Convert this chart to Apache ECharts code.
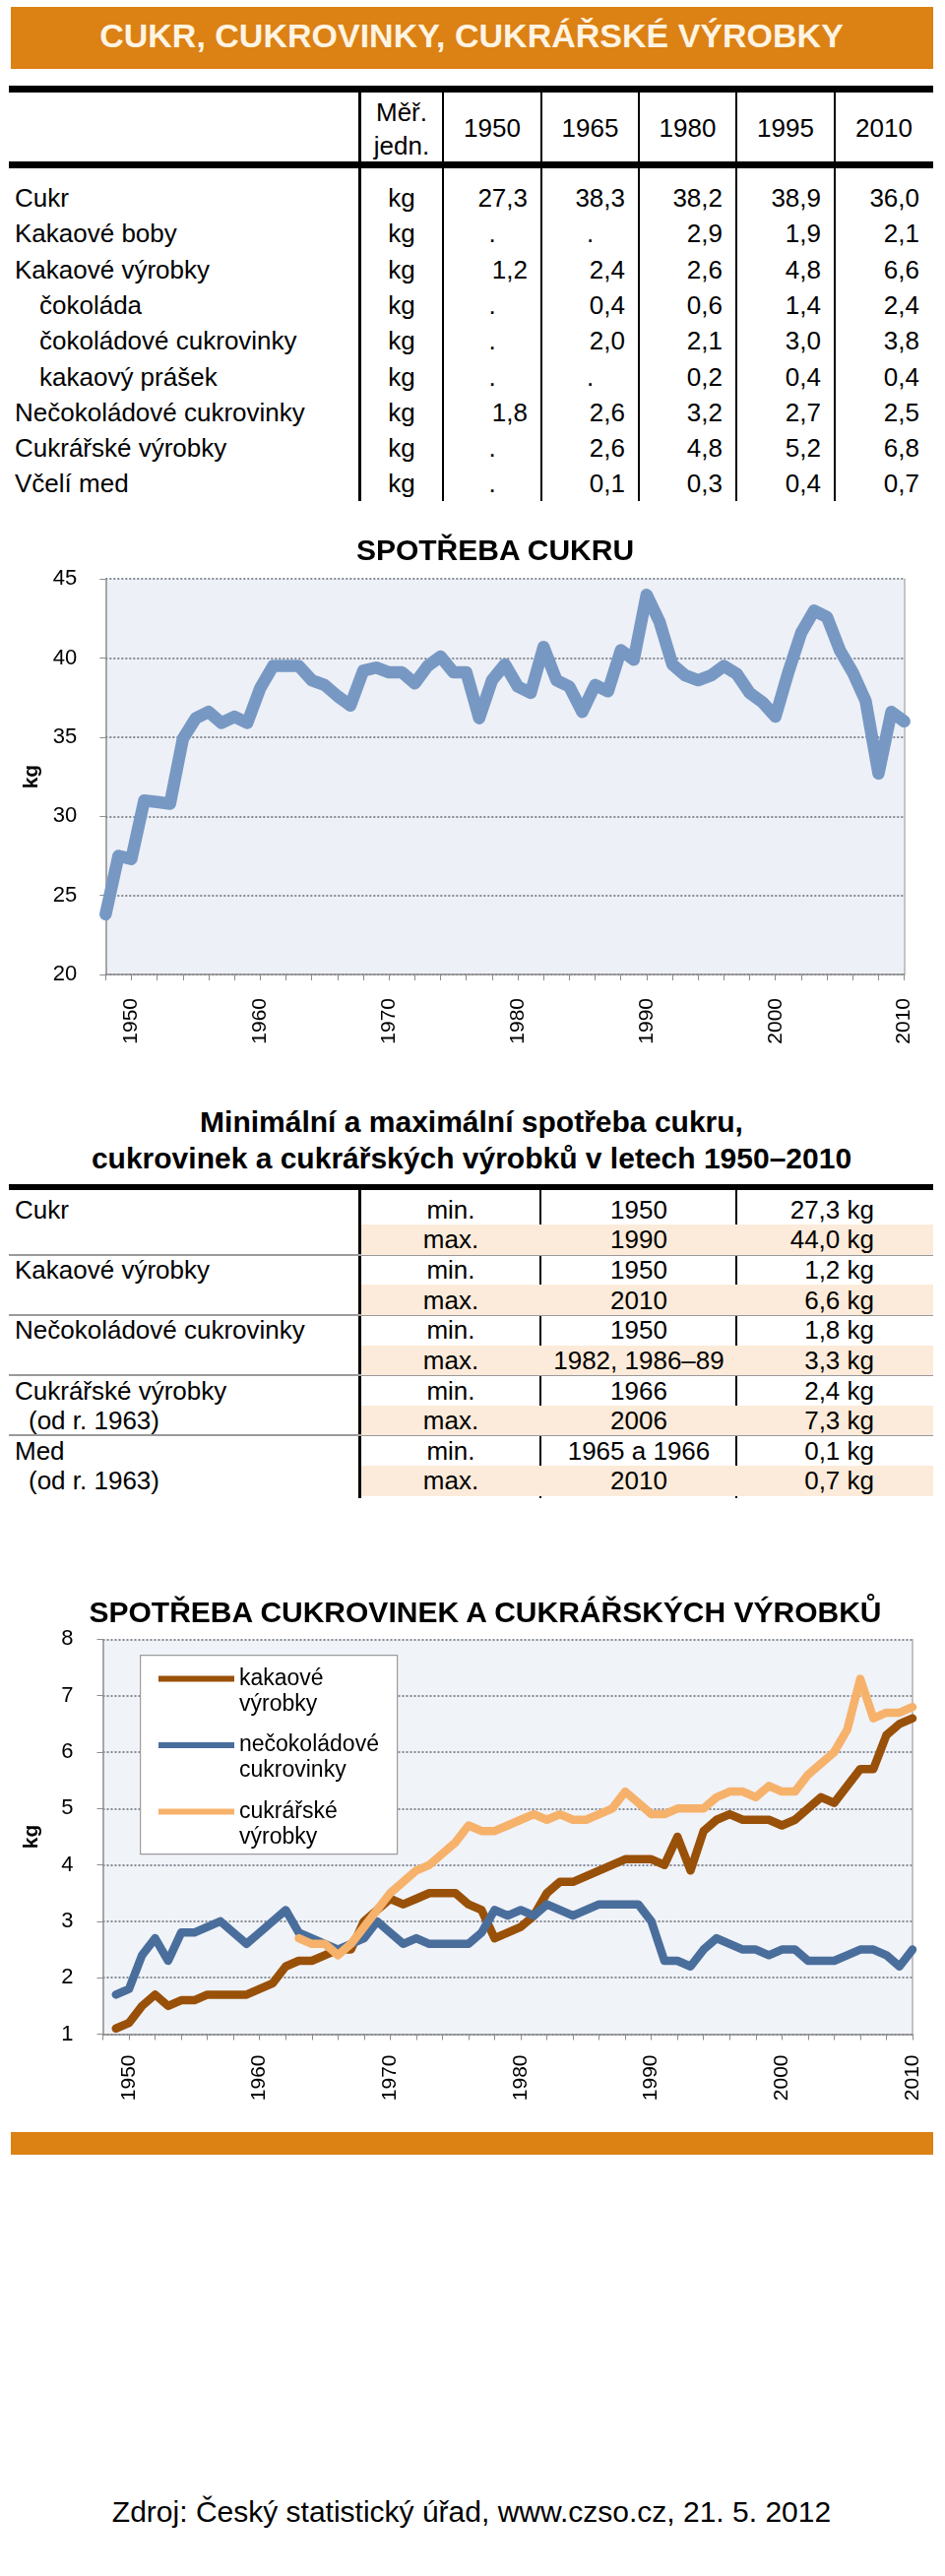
<!DOCTYPE html>
<html><head><meta charset="utf-8">
<script src="https://cdn.jsdelivr.net/npm/echarts@6/dist/echarts.min.js"></script>
<style>
html,body{margin:0;padding:0;background:#fff;}
#page{position:relative;width:960px;height:2617px;font-family:"Liberation Sans",Arial,sans-serif;color:#000;overflow:hidden;}
.t{position:absolute;white-space:nowrap;line-height:1;}
.r{position:absolute;}
</style></head><body><div id="page">
<div id="chart1" style="position:absolute;left:0;top:530px;width:960px;height:560px"></div>
<div id="chart2" style="position:absolute;left:0;top:1590px;width:960px;height:575px"></div>
</div>
<script>
// ---------------- DATA ----------------
const pageTitle = 'CUKR, CUKROVINKY, CUKRÁŘSKÉ VÝROBKY';
const sourceNote = 'Zdroj: Český statistický úřad, www.czso.cz, 21. 5. 2012';

const tableUnitHeader = ['Měř.', 'jedn.'];
const tableYears = ['1950', '1965', '1980', '1995', '2010'];
const tableRowLabels = ['Cukr', 'Kakaové boby', 'Kakaové výrobky', 'čokoláda', 'čokoládové cukrovinky', 'kakaový prášek', 'Nečokoládové cukrovinky', 'Cukrářské výrobky', 'Včelí med'];
const tableRowIsSub = [false, false, false, true, true, true, false, false, false];
const tableUnit = 'kg';
const tableValues = [
  ['27,3', '38,3', '38,2', '38,9', '36,0'],
  ['.', '.', '2,9', '1,9', '2,1'],
  ['1,2', '2,4', '2,6', '4,8', '6,6'],
  ['.', '0,4', '0,6', '1,4', '2,4'],
  ['.', '2,0', '2,1', '3,0', '3,8'],
  ['.', '.', '0,2', '0,4', '0,4'],
  ['1,8', '2,6', '3,2', '2,7', '2,5'],
  ['.', '2,6', '4,8', '5,2', '6,8'],
  ['.', '0,1', '0,3', '0,4', '0,7']
];

const minmaxTitle = ['Minimální a maximální spotřeba cukru,', 'cukrovinek a cukrářských výrobků v letech 1950–2010'];
const minmaxGroups = ['Cukr', 'Kakaové výrobky', 'Nečokoládové cukrovinky', 'Cukrářské výrobky', 'Med'];
const minmaxNotes = ['', '', '', '(od r. 1963)', '(od r. 1963)'];
const minmaxKinds = ['min.', 'max.'];
const minmaxYears = [['1950', '1990'], ['1950', '2010'], ['1950', '1982, 1986–89'], ['1966', '2006'], ['1965 a 1966', '2010']];
const minmaxValues = [['27,3 kg', '44,0 kg'], ['1,2 kg', '6,6 kg'], ['1,8 kg', '3,3 kg'], ['2,4 kg', '7,3 kg'], ['0,1 kg', '0,7 kg']];

const years = ['1948','1949','1950','1951','1952','1953','1954','1955','1956','1957','1958','1959',
  '1960','1961','1962','1963','1964','1965','1966','1967','1968','1969',
  '1970','1971','1972','1973','1974','1975','1976','1977','1978','1979',
  '1980','1981','1982','1983','1984','1985','1986','1987','1988','1989',
  '1990','1991','1992','1993','1994','1995','1996','1997','1998','1999',
  '2000','2001','2002','2003','2004','2005','2006','2007','2008','2009','2010'];

const sugarTitle = 'SPOTŘEBA CUKRU';
const sugarKg = [23.8, 27.5, 27.3, 31.0, 30.9, 30.8, 34.9, 36.2, 36.6, 35.9, 36.3, 35.9,
  38.1, 39.5, 39.5, 39.5, 38.6, 38.3, 37.6, 37.0, 39.2, 39.4,
  39.1, 39.1, 38.4, 39.5, 40.1, 39.1, 39.1, 36.2, 38.6, 39.6,
  38.2, 37.8, 40.7, 38.6, 38.2, 36.6, 38.3, 37.9, 40.5, 39.9,
  44.0, 42.3, 39.6, 38.9, 38.6, 38.9, 39.5, 39.0, 37.8, 37.2,
  36.3, 39.1, 41.6, 43.0, 42.6, 40.5, 39.1, 37.3, 32.7, 36.6, 36.0];

const sweetsTitle = 'SPOTŘEBA CUKROVINEK A CUKRÁŘSKÝCH VÝROBKŮ';
const sweetsNames = ['kakaové\nvýrobky', 'nečokoládové\ncukrovinky', 'cukrářské\nvýrobky'];
const cocoaKg = [null, 1.1, 1.2, 1.5, 1.7, 1.5, 1.6, 1.6, 1.7, 1.7, 1.7, 1.7,
  1.8, 1.9, 2.2, 2.3, 2.3, 2.4, 2.5, 2.5, 3.0, 3.2,
  3.4, 3.3, 3.4, 3.5, 3.5, 3.5, 3.3, 3.2, 2.7, 2.8,
  2.9, 3.1, 3.5, 3.7, 3.7, 3.8, 3.9, 4.0, 4.1, 4.1,
  4.1, 4.0, 4.5, 3.9, 4.6, 4.8, 4.9, 4.8, 4.8, 4.8,
  4.7, 4.8, 5.0, 5.2, 5.1, 5.4, 5.7, 5.7, 6.3, 6.5, 6.6];
const nonChocKg = [null, 1.7, 1.8, 2.4, 2.7, 2.3, 2.8, 2.8, 2.9, 3.0, 2.8, 2.6,
  2.8, 3.0, 3.2, 2.8, 2.7, 2.6, 2.5, 2.6, 2.7, 3.0,
  2.8, 2.6, 2.7, 2.6, 2.6, 2.6, 2.6, 2.8, 3.2, 3.1,
  3.2, 3.1, 3.3, 3.2, 3.1, 3.2, 3.3, 3.3, 3.3, 3.3,
  3.0, 2.3, 2.3, 2.2, 2.5, 2.7, 2.6, 2.5, 2.5, 2.4,
  2.5, 2.5, 2.3, 2.3, 2.3, 2.4, 2.5, 2.5, 2.4, 2.2, 2.5];
const pastryKg = [null, null, null, null, null, null, null, null, null, null, null, null,
  null, null, null, 2.7, 2.6, 2.6, 2.4, 2.6, 2.9, 3.2,
  3.5, 3.7, 3.9, 4.0, 4.2, 4.4, 4.7, 4.6, 4.6, 4.7,
  4.8, 4.9, 4.8, 4.9, 4.8, 4.8, 4.9, 5.0, 5.3, 5.1,
  4.9, 4.9, 5.0, 5.0, 5.0, 5.2, 5.3, 5.3, 5.2, 5.4,
  5.3, 5.3, 5.6, 5.8, 6.0, 6.4, 7.3, 6.6, 6.7, 6.7, 6.8];

// ---------------- STYLE / LAYOUT ----------------
const FF = '"Liberation Sans", Arial, sans-serif';
const ORANGE = '#dc8114';
const PEACH = '#fcebda';
const page = document.getElementById('page');

function txt(x, y, s, o) {
  o = o || {};
  const d = document.createElement('div');
  d.className = 't';
  d.textContent = s;
  d.style.left = x + 'px';
  d.style.top = y + 'px';
  d.style.fontSize = (o.size || 26) + 'px';
  if (o.bold) d.style.fontWeight = 'bold';
  if (o.color) d.style.color = o.color;
  const tx = o.align === 'center' ? '-50%' : (o.align === 'right' ? '-100%' : '0');
  d.style.transform = 'translate(' + tx + ',-50%)';
  page.appendChild(d);
}
function rect(x, y, w, h, c) {
  const d = document.createElement('div');
  d.className = 'r';
  d.style.left = x + 'px'; d.style.top = y + 'px';
  d.style.width = w + 'px'; d.style.height = h + 'px';
  d.style.background = c;
  page.insertBefore(d, page.firstChild);
}

// header banner
rect(11, 7, 937, 63, ORANGE);
txt(479, 36, pageTitle, { size: 34, bold: true, color: '#fff4e2', align: 'center' });

// table 1
(function () {
  const colLines = [365.6, 450, 550, 649, 748, 848];
  const colCenters = [500, 599.5, 698.5, 798, 898];
  const colRights = [536, 635, 734, 834, 934];
  const unitX = 408, rowY0 = 201, rowH = 36.3;
  rect(9, 87, 939, 6.5, '#000');
  rect(9, 164, 939, 6.5, '#000');
  colLines.forEach(function (x) { rect(x - 1.3, 93, 2.6, 416, '#000'); });
  txt(unitX, 114, tableUnitHeader[0], { align: 'center' });
  txt(unitX, 148, tableUnitHeader[1], { align: 'center' });
  tableYears.forEach(function (y, i) { txt(colCenters[i], 130, y, { align: 'center' }); });
  tableRowLabels.forEach(function (lab, r) {
    const cy = rowY0 + rowH * r;
    txt(tableRowIsSub[r] ? 40 : 15, cy, lab);
    txt(unitX, cy, tableUnit, { align: 'center' });
    tableValues[r].forEach(function (v, c) {
      if (v === '.') txt(colCenters[c], cy, v, { align: 'center' });
      else txt(colRights[c], cy, v, { align: 'right' });
    });
  });
})();

// table 2 (min / max)
(function () {
  txt(479, 1140, minmaxTitle[0], { size: 30, bold: true, align: 'center' });
  txt(479, 1177, minmaxTitle[1], { size: 30, bold: true, align: 'center' });
  rect(9, 1203.4, 939, 5.8, '#000');
  const rowY0 = 1228.6, rowH = 30.65;
  minmaxGroups.forEach(function (g, gi) {
    for (let k = 0; k < 2; k++) {
      const r = gi * 2 + k;
      const cy = rowY0 + rowH * r;
      if (k === 1) rect(367, cy - 15.3, 581, 30.6, PEACH);
      txt(k === 0 ? 15 : 29, cy, k === 0 ? g : minmaxNotes[gi]);
      txt(458, cy, minmaxKinds[k], { align: 'center' });
      txt(649, cy, minmaxYears[gi][k], { align: 'center' });
      txt(888, cy, minmaxValues[gi][k], { align: 'right' });
    }
    if (gi < minmaxGroups.length - 1) {
      rect(9, rowY0 + rowH * (gi * 2 + 1) + 14.3, 939, 2, '#9a9a9a');
    }
  });
  [365.6, 549, 748].forEach(function (x) { rect(x - 1.3, 1209, 2.6, 313, '#000'); });
})();

// footer
rect(11, 2166, 937, 23, ORANGE);
txt(479, 2552, sourceNote, { size: 30, align: 'center' });

// chart titles
txt(503, 559, sugarTitle, { size: 30, bold: true, align: 'center' });
txt(493, 1638, sweetsTitle, { size: 30, bold: true, align: 'center' });

// ---------------- CHARTS ----------------
const AX = '#8c8c8c';
const GRIDLINE = { color: '#868b94', width: 2, type: [2, 2] };

function xAxisCfg(margin) {
  return {
    type: 'category', data: years, boundaryGap: false,
    axisLine: { lineStyle: { color: AX, width: 1.5 } },
    axisTick: { interval: function (i) { return i % 2 === 0; }, length: 6, lineStyle: { color: AX } },
    axisLabel: { interval: function (i, v) { return Number(v) % 10 === 0; }, rotate: 90, margin: margin,
      fontSize: 21, color: '#000', fontFamily: FF },
    splitLine: { show: false }
  };
}
function yAxesCfg(min, max, step, nameGap, margin) {
  return [{
    type: 'value', min: min, max: max, interval: step,
    name: 'kg', nameLocation: 'middle', nameGap: nameGap, nameRotate: 90,
    nameTextStyle: { fontSize: 21, fontWeight: 'bold', color: '#000', fontFamily: FF },
    axisLine: { show: true, lineStyle: { color: AX, width: 1.5 } },
    axisTick: { show: true, length: 6, lineStyle: { color: AX } },
    axisLabel: { margin: margin, fontSize: 22, color: '#000', fontFamily: FF },
    splitLine: { show: true, lineStyle: GRIDLINE }
  }, {
    type: 'value', min: min, max: max, interval: step, position: 'right',
    axisLine: { show: true, lineStyle: { color: '#b0b0b0', width: 1.5 } },
    axisTick: { show: false }, axisLabel: { show: false }, splitLine: { show: false }
  }];
}

const chart1 = echarts.init(document.getElementById('chart1'), null, { renderer: 'canvas' });
chart1.setOption({
  animation: false,
  grid: { left: 107.3, right: 41.4, top: 58.2, bottom: 100, show: true, backgroundColor: '#edf0f6', borderWidth: 0 },
  xAxis: xAxisCfg(24),
  yAxis: yAxesCfg(20, 45, 5, 64, 29),
  series: [{
    type: 'line', name: sugarTitle, data: sugarKg, symbol: 'none', color: '#7898c4',
    lineStyle: { width: 12.5, color: '#7898c4', join: 'round', cap: 'round' }
  }]
});

const sweetsColors = ['#995008', '#4a6e9c', '#f6b26b'];
const sweetsData = [cocoaKg, nonChocKg, pastryKg];
const chart2 = echarts.init(document.getElementById('chart2'), null, { renderer: 'canvas' });
chart2.setOption({
  animation: false,
  grid: { left: 104.5, right: 33, top: 75.4, bottom: 98.5, show: true, backgroundColor: '#f0f3f8', borderWidth: 0 },
  xAxis: xAxisCfg(21),
  yAxis: yAxesCfg(1, 8, 1, 62, 30),
  graphic: [{
    type: 'rect', left: 142, top: 91, z: 3,
    shape: { width: 261, height: 202 },
    style: { fill: '#ffffff', stroke: '#9c9c9c', lineWidth: 1.2 }
  }],
  legend: {
    orient: 'vertical', left: 161, top: 76.5, padding: 0, itemWidth: 77, itemHeight: 6, itemGap: -10.5,
    icon: 'rect', selectedMode: false, z: 5, data: sweetsNames,
    formatter: function (name) { return '\n' + name; },
    textStyle: { fontSize: 23, lineHeight: 26, color: '#000', fontFamily: FF }
  },
  series: sweetsNames.map(function (n, i) {
    return {
      type: 'line', name: n, data: sweetsData[i], symbol: 'none', color: sweetsColors[i],
      itemStyle: { color: sweetsColors[i] },
      lineStyle: { width: 8.5, color: sweetsColors[i], join: 'round', cap: 'round' }
    };
  })
});
</script>
</body></html>
